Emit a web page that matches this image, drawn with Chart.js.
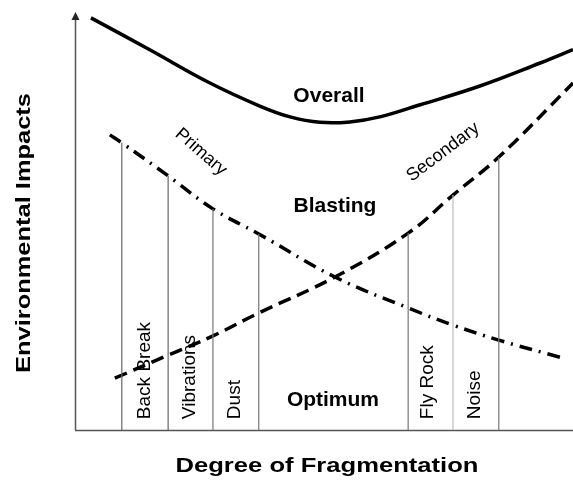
<!DOCTYPE html>
<html>
<head>
<meta charset="utf-8">
<script src="https://cdn.jsdelivr.net/npm/chart.js@4"></script>
<style>
  html, body { margin: 0; padding: 0; background: #fff; }
</style>
</head>
<body>
<canvas id="chart" width="573" height="484"></canvas>
<script>
// curves (x = degree of fragmentation, y = impact, both 0..10)
const overallX = [0.32, 1.51, 2.71, 3.71, 4.32, 4.92, 5.52, 6.12, 6.93, 8.13, 9.34, 10.0];
const overallY = [9.86, 9.09, 8.30, 7.75, 7.49, 7.36, 7.37, 7.49, 7.78, 8.23, 8.78, 9.10];

const primaryX = [0.70, 0.94, 1.87, 2.77, 3.69, 5.22, 6.69, 7.59, 8.51, 9.80];
const primaryY = [7.06, 6.87, 6.08, 5.29, 4.69, 3.66, 2.92, 2.51, 2.15, 1.72];

const secondaryX = [0.80, 1.87, 2.77, 3.69, 5.22, 6.69, 7.59, 8.51, 10.0];
const secondaryY = [1.24, 1.79, 2.25, 2.80, 3.66, 4.71, 5.62, 6.53, 8.30];

// vertical impact lines: position and height
const impactX = [0.94, 1.87, 2.77, 3.69, 6.69, 7.59, 8.51];
const impactTop = [6.87, 6.08, 5.29, 4.69, 4.71, 5.62, 6.53];
const impactNames = ['Back Break', 'Vibrations', 'Dust', '', 'Fly Rock', 'Noise', ''];

const FONT = '"Liberation Sans", Arial, Helvetica, sans-serif';
const lineColors = ['#666', '#666', '#777', '#777', '#777', '#bbb', '#777'];

function pts(xs, ys) {
  return xs.map((x, i) => ({ x: x, y: ys[i] }));
}

const datasets = [];
impactX.forEach((x, i) => {
  datasets.push({
    data: [{ x: x, y: 0 }, { x: x, y: impactTop[i] }],
    borderColor: lineColors[i],
    borderWidth: 1.2,
    pointRadius: 0,
    tension: 0
  });
});
datasets.push({
  label: 'Overall',
  data: pts(overallX, overallY),
  borderColor: '#000',
  borderWidth: 3.5,
  pointRadius: 0,
  tension: 0.4
});
datasets.push({
  label: 'Primary',
  data: pts(primaryX, primaryY),
  borderColor: '#000',
  borderWidth: 3.5,
  borderDash: [13, 7, 2, 7],
  pointRadius: 0,
  tension: 0.4
});
datasets.push({
  label: 'Secondary',
  data: pts(secondaryX, secondaryY),
  borderColor: '#000',
  borderWidth: 3.5,
  borderDash: [13, 7],
  pointRadius: 0,
  tension: 0.4
});

// text drawn on top, squeezed or stretched to a target width when given
function drawText(ctx, text, x, y, opts) {
  ctx.save();
  ctx.translate(x, y);
  ctx.rotate((opts.angle || 0) * Math.PI / 180);
  ctx.font = opts.font;
  ctx.fillStyle = '#000';
  ctx.textAlign = opts.align || 'center';
  ctx.textBaseline = opts.baseline || 'alphabetic';
  if (opts.width) {
    const w = ctx.measureText(text).width;
    ctx.scale(opts.width / w, 1);
  }
  ctx.fillText(text, 0, 0);
  ctx.restore();
}

const overlay = {
  id: 'overlay',
  beforeDatasetsDraw(chart) {
    const { ctx, chartArea: a } = chart;
    ctx.save();
    ctx.strokeStyle = '#555';
    ctx.lineWidth = 1.5;
    ctx.beginPath();
    ctx.moveTo(a.left + 0.5, a.bottom);
    ctx.lineTo(a.left + 0.5, a.top + 6);
    ctx.moveTo(a.left, a.bottom + 0.5);
    ctx.lineTo(a.right, a.bottom + 0.5);
    ctx.stroke();
    // arrow head
    ctx.fillStyle = '#222';
    ctx.beginPath();
    ctx.moveTo(a.left + 0.5, a.top);
    ctx.lineTo(a.left - 3.5, a.top + 8);
    ctx.lineTo(a.left + 4.5, a.top + 8);
    ctx.closePath();
    ctx.fill();
    ctx.restore();
  },
  afterDatasetsDraw(chart) {
    const ctx = chart.ctx;
    const sx = chart.scales.x, sy = chart.scales.y;
    const px = v => sx.getPixelForValue(v);
    const py = v => sy.getPixelForValue(v);
    const bold = 'bold 21px ' + FONT;
    const plain = '18px ' + FONT;
    const small = '19px ' + FONT;

    drawText(ctx, 'Overall', px(5.10), py(7.85), { font: bold });
    drawText(ctx, 'Blasting', px(5.22), py(5.22), { font: bold });
    drawText(ctx, 'Optimum', px(5.18), py(0.57), { font: bold });

    drawText(ctx, 'Primary', px(2.53), py(6.65), { font: plain, angle: 41, baseline: 'middle' });
    drawText(ctx, 'Secondary', px(7.39), py(6.65), { font: plain, angle: -37, baseline: 'middle' });

    const labelX = [1.41, 2.31, 3.21, 0, 7.09, 8.03, 0];
    impactNames.forEach((name, i) => {
      if (!name) return;
      drawText(ctx, name, px(labelX[i]), py(0.26), { font: small, angle: -90, align: 'left', baseline: 'middle' });
    });

    // axis titles
    drawText(ctx, 'Environmental Impacts', 24, 233, { font: 'bold 21px ' + FONT, angle: -90, baseline: 'middle', width: 280 });
    drawText(ctx, 'Degree of Fragmentation', 327, 466, { font: 'bold 21px ' + FONT, baseline: 'middle', width: 303 });
  }
};

new Chart(document.getElementById('chart').getContext('2d'), {
  type: 'line',
  data: { datasets: datasets },
  options: {
    responsive: false,
    animation: false,
    layout: { padding: { left: 75, right: 0, top: 12, bottom: 54 } },
    plugins: { legend: { display: false }, tooltip: { enabled: false } },
    scales: {
      x: { type: 'linear', min: 0, max: 10, display: false },
      y: { type: 'linear', min: 0, max: 10, display: false }
    }
  },
  plugins: [overlay]
});
</script>
</body>
</html>
